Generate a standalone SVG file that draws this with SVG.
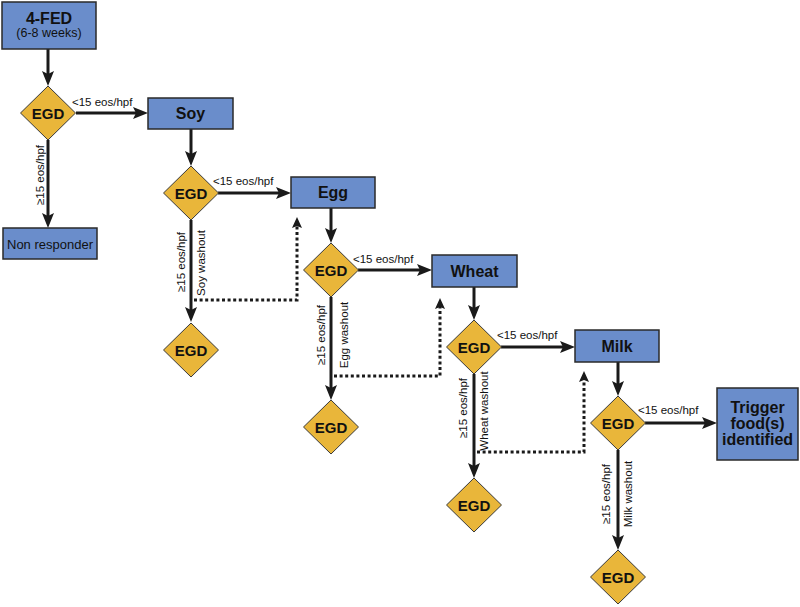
<svg xmlns="http://www.w3.org/2000/svg" width="800" height="607" viewBox="0 0 800 607">
<defs>
<style>
.box{fill:#6a8dcb;stroke:#2a2a2a;stroke-width:1.5}
.dia{fill:#e9b63a;stroke:#3a3a3a;stroke-width:1}
.t{font-family:"Liberation Sans",Arial,sans-serif;fill:#111;text-anchor:middle}
.b{font-weight:bold;font-size:16px}
.e{font-weight:bold;font-size:15px}
.lb{font-family:"Liberation Sans",Arial,sans-serif;fill:#111;font-size:11.5px}
.c{fill:none;stroke:#1a1a1a;stroke-width:3}
.d{fill:none;stroke:#1a1a1a;stroke-width:3;stroke-dasharray:3 2.6}
</style>
<marker id="ah" markerUnits="userSpaceOnUse" markerWidth="16" markerHeight="13" refX="3" refY="6" orient="auto">
<path d="M0,0 L15,6 L0,12 L3,6 z" fill="#1a1a1a"/>
</marker>
<marker id="ahs" markerUnits="userSpaceOnUse" markerWidth="12" markerHeight="11" refX="2" refY="5" orient="auto">
<path d="M0,0 L11,5 L0,10 L2,5 z" fill="#1a1a1a"/>
</marker>
</defs>
<rect width="800" height="607" fill="#fff"/>

<g id="connectors">
<line class="c" x1="48" y1="49" x2="48" y2="74" marker-end="url(#ah)"/>
<line class="c" x1="76" y1="113" x2="136" y2="113" marker-end="url(#ah)"/>
<line class="c" x1="48" y1="140" x2="48" y2="216" marker-end="url(#ah)"/>
<line class="c" x1="191" y1="129" x2="191" y2="154" marker-end="url(#ah)"/>
<line class="c" x1="218" y1="193" x2="279" y2="193" marker-end="url(#ah)"/>
<line class="c" x1="191" y1="220" x2="191" y2="310" marker-end="url(#ah)"/>
<line class="c" x1="331" y1="208" x2="331" y2="231" marker-end="url(#ah)"/>
<line class="c" x1="358" y1="270" x2="420" y2="270" marker-end="url(#ah)"/>
<line class="c" x1="331" y1="297" x2="331" y2="388" marker-end="url(#ah)"/>
<line class="c" x1="474" y1="287" x2="474" y2="308" marker-end="url(#ah)"/>
<line class="c" x1="501" y1="347" x2="563" y2="347" marker-end="url(#ah)"/>
<line class="c" x1="474" y1="374" x2="474" y2="466" marker-end="url(#ah)"/>
<line class="c" x1="618" y1="362" x2="618" y2="384" marker-end="url(#ah)"/>
<line class="c" x1="645" y1="423" x2="705" y2="423" marker-end="url(#ah)"/>
<line class="c" x1="618" y1="450" x2="618" y2="538" marker-end="url(#ah)"/>
<polyline class="d" points="194,300 297,300 297,226" marker-end="url(#ahs)"/>
<polyline class="d" points="334,376 440,376 440,307" marker-end="url(#ahs)"/>
<polyline class="d" points="477,452 584,452 584,380" marker-end="url(#ahs)"/>
<text class="lb" x="72" y="106">&lt;15 eos/hpf</text>
<text class="lb" x="213" y="185">&lt;15 eos/hpf</text>
<text class="lb" x="353" y="263">&lt;15 eos/hpf</text>
<text class="lb" x="497" y="339">&lt;15 eos/hpf</text>
<text class="lb" x="638" y="414">&lt;15 eos/hpf</text>
<text class="lb" text-anchor="middle" transform="translate(43.5,175) rotate(-90)">≥15 eos/hpf</text>
<text class="lb" text-anchor="middle" transform="translate(185,262) rotate(-90)">≥15 eos/hpf</text>
<text class="lb" text-anchor="middle" transform="translate(205,263) rotate(-90)">Soy washout</text>
<text class="lb" text-anchor="middle" transform="translate(325,335) rotate(-90)">≥15 eos/hpf</text>
<text class="lb" text-anchor="middle" transform="translate(347.5,335) rotate(-90)">Egg washout</text>
<text class="lb" text-anchor="middle" transform="translate(467,408) rotate(-90)">≥15 eos/hpf</text>
<text class="lb" text-anchor="middle" transform="translate(488,411) rotate(-90)">Wheat washout</text>
<text class="lb" text-anchor="middle" transform="translate(610,494) rotate(-90)">≥15 eos/hpf</text>
<text class="lb" text-anchor="middle" transform="translate(632,494) rotate(-90)">Milk washout</text>
</g>

<g id="fed">
<rect class="box" x="2" y="2" width="94" height="47"/>
<text class="t b" x="49" y="23.5">4-FED</text>
<text class="t" x="49" y="37" font-size="12.5">(6-8 weeks)</text>
</g>
<g id="egd1">
<polygon class="dia" points="48,86 75.5,113 48,140 20.5,113"/>
<text class="t e" x="48" y="118.5">EGD</text>
</g>
<g id="nonresponder">
<rect class="box" x="3" y="228" width="94" height="31"/>
<text class="t" x="50" y="248.5" font-size="13">Non responder</text>
</g>
<g id="soy">
<rect class="box" x="148" y="98" width="85" height="31"/>
<text class="t b" x="190.5" y="119">Soy</text>
</g>
<g id="egd2">
<polygon class="dia" points="191,166 218.5,193 191,220 163.5,193"/>
<text class="t e" x="191" y="198.5">EGD</text>
</g>
<g id="egd2b">
<polygon class="dia" points="191,323 218.5,350 191,377 163.5,350"/>
<text class="t e" x="191" y="355.5">EGD</text>
</g>
<g id="egg">
<rect class="box" x="291" y="177" width="84" height="31"/>
<text class="t b" x="333" y="198">Egg</text>
</g>
<g id="egd3">
<polygon class="dia" points="331,243 358.5,270 331,297 303.5,270"/>
<text class="t e" x="331" y="275.5">EGD</text>
</g>
<g id="egd3b">
<polygon class="dia" points="331,400 358.5,427 331,454 303.5,427"/>
<text class="t e" x="331" y="432.5">EGD</text>
</g>
<g id="wheat">
<rect class="box" x="432" y="255" width="85" height="32"/>
<text class="t b" x="474.5" y="276.5">Wheat</text>
</g>
<g id="egd4">
<polygon class="dia" points="474,320 501.5,347 474,374 446.5,347"/>
<text class="t e" x="474" y="352.5">EGD</text>
</g>
<g id="egd4b">
<polygon class="dia" points="474,478 501.5,505 474,532 446.5,505"/>
<text class="t e" x="474" y="510.5">EGD</text>
</g>
<g id="milk">
<rect class="box" x="575" y="330" width="84" height="32"/>
<text class="t b" x="617" y="351.5">Milk</text>
</g>
<g id="egd5">
<polygon class="dia" points="618,396 645.5,423 618,450 590.5,423"/>
<text class="t e" x="618" y="428.5">EGD</text>
</g>
<g id="egd5b">
<polygon class="dia" points="618,550 645.5,577 618,604 590.5,577"/>
<text class="t e" x="618" y="582.5">EGD</text>
</g>
<g id="trigger">
<rect class="box" x="717" y="388" width="81" height="72"/>
<text class="t b" x="757.5" y="413">Trigger</text>
<text class="t b" x="757.5" y="429">food(s)</text>
<text class="t b" x="757.5" y="445">identified</text>
</g>
</svg>
